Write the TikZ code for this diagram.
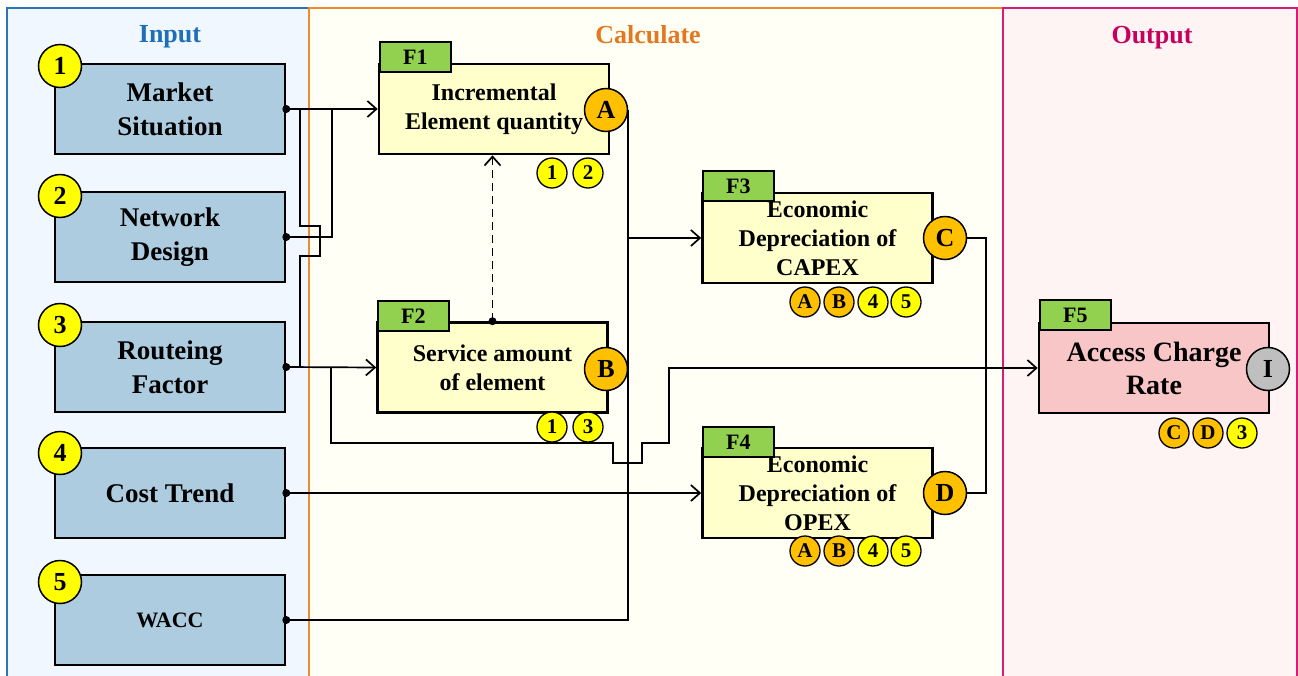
\documentclass[tikz,border=0pt]{standalone}
\usepackage{fontspec}
\setmainfont{Liberation Serif}
\usetikzlibrary{arrows.meta}
\definecolor{inpanel}{HTML}{F0F7FF}
\definecolor{inborder}{HTML}{2E75B6}
\definecolor{calcpanel}{HTML}{FFFFF6}
\definecolor{calcborder}{HTML}{ED8B2F}
\definecolor{outpanel}{HTML}{FFF4F4}
\definecolor{outborder}{HTML}{D81B77}
\definecolor{intitle}{HTML}{1F6FB8}
\definecolor{calctitle}{HTML}{E5781E}
\definecolor{outtitle}{HTML}{C7005F}
\definecolor{inboxc}{HTML}{AECCE0}
\definecolor{fboxc}{HTML}{FFFFCC}
\definecolor{f5c}{HTML}{F9C6C8}
\definecolor{tabc}{HTML}{92D050}
\definecolor{yelc}{HTML}{FFFF00}
\definecolor{orgc}{HTML}{FFC000}
\definecolor{grayc}{HTML}{BFBFBF}
\begin{document}
\begin{tikzpicture}[x=1pt,y=-1pt,
  conn/.style={line width=1.7pt, black},
  arr/.style={-{Straight Barb[length=9pt,width=16pt]}},
  panel/.style={line width=1.5pt},
  title/.style={anchor=base, font=\bfseries\fontsize{26}{26}\selectfont},
  inbox/.style={draw, line width=2.6pt, fill=inboxc, minimum width=230, minimum height=90, inner sep=0, align=center, font=\bfseries\fontsize{27}{34}\selectfont},
  fbox/.style={draw, line width=2.6pt, fill=fboxc, minimum width=230, minimum height=90, inner sep=0, align=center, font=\bfseries\fontsize{24}{29}\selectfont},
  tabbox/.style={draw, line width=1.8pt, fill=tabc, minimum width=71, minimum height=30, inner sep=0, anchor=north west, font=\bfseries\fontsize{22}{22}\selectfont},
  bigc/.style={circle, draw, line width=1.5pt, minimum size=43, inner sep=0, font=\bfseries\fontsize{26}{26}\selectfont},
  smc/.style={circle, draw, line width=1.3pt, minimum size=30, inner sep=0, font=\bfseries\fontsize{21}{21}\selectfont},
  yel/.style={fill=yelc}, org/.style={fill=orgc}, gry/.style={fill=grayc},
  dot/.style={circle, fill=black, inner sep=0, minimum size=8}
]
\useasboundingbox (0,0) rectangle (1298,675);
% panels
\draw[panel, fill=inpanel, draw=inborder] (7,8) rectangle (309,690);
\draw[panel, fill=calcpanel, draw=calcborder] (309,8) rectangle (1003,690);
\draw[panel, fill=outpanel, draw=outborder] (1003,8) rectangle (1297,690);
\node[title, text=intitle] (tin) at (170,42) {Input};
\node[title, text=calctitle] (tcalc) at (648,43) {Calculate};
\node[title, text=outtitle] (tout) at (1152,43) {Output};

% input boxes
\node[inbox] (ms) at (170,109) {Market\\Situation};
\node[inbox] (nd) at (170,237) {Network\\Design};
\node[inbox] (rf) at (170,367) {Routeing\\Factor};
\node[inbox] (ct) at (170,493) {Cost Trend};
\node[inbox, font=\bfseries\fontsize{22}{26}\selectfont] (wacc) at (170,620) {WACC};
\node[bigc, yel] (n1) at (60,66) {1};
\node[bigc, yel] (n2) at (60,196) {2};
\node[bigc, yel] (n3) at (60,325) {3};
\node[bigc, yel] (n4) at (60,453) {4};
\node[bigc, yel] (n5) at (60,582) {5};

% function boxes
\node[fbox] (F1) at (494,109) {Incremental\\Element quantity};
\node[tabbox] (t1) at (379,41) {F1};
\node[fbox] (F2) at (492.5,367.5) {Service amount\\of element};
\node[tabbox] (t2) at (377,300) {F2};
\node[fbox] (F3) at (817.5,238) {Economic\\Depreciation of\\CAPEX};
\node[tabbox] (t3) at (702,170) {F3};
\node[fbox] (F4) at (817.5,493) {Economic\\Depreciation of\\OPEX};
\node[tabbox] (t4) at (702,426) {F4};
\node[fbox, fill=f5c, font=\bfseries\fontsize{28}{33}\selectfont] (F5) at (1154,368) {Access Charge\\Rate};
\node[tabbox] (t5) at (1039,299) {F5};

% connectors
\coordinate (j1) at (300,109);
\coordinate (j2) at (332,109);
\coordinate (j3) at (331,367);
\coordinate (j4) at (986,238);
\draw[conn, arr] (ms.east) -- (F1.west);
\draw[conn] (nd.east) -- (332,237) -- (j2);
\draw[conn] (j1) -- (300,226) -- (320,226) -- (320,256) -- (300,256) -- (300,367);
\draw[conn, arr] (rf.east) -- (F2.west);
\draw[conn, arr] (j3) -- (331,443) -- (613,443) -- (613,463) -- (642,463) -- (642,443) -- (669,443) -- (669,368) -- (F5.west);
\draw[conn, arr] (ct.east) -- (F4.west);

% output circles and bus
\node[bigc, org] (A) at (606,110) {A};
\node[bigc, org] (B) at (606,369) {B};
\node[bigc, org] (C) at (945,238) {C};
\node[bigc, org] (D) at (945,493) {D};
\node[bigc, gry] (I) at (1268,369) {I};
\coordinate (bus3) at (627,238);
\draw[conn] (A.east) -- (A.east |- wacc.east) -- (wacc.east);
\draw[conn, arr] (bus3) -- (F3.west);
\draw[conn] (C.east) -- (j4) -- (986,493) -- (D.east);
\draw[conn, dash pattern=on 8pt off 5pt, arr] (F2.north) -- (F2.north |- F1.south);

% dots
\node[dot] (d1) at (ms.east) {};
\node[dot] (d2) at (nd.east) {};
\node[dot] (d3) at (rf.east) {};
\node[dot] (d4) at (ct.east) {};
\node[dot] (d5) at (wacc.east) {};
\node[dot] (d6) at (F2.north) {};

% reference circles
\node[smc, yel] (r11) at (552,173) {1};
\node[smc, yel] (r12) at (588,173) {2};
\node[smc, yel] (r21) at (552,427) {1};
\node[smc, yel] (r23) at (588,427) {3};
\node[smc, org] (r3a) at (805,302) {A};
\node[smc, org] (r3b) at (839,302) {B};
\node[smc, yel] (r34) at (873,302) {4};
\node[smc, yel] (r35) at (906,302) {5};
\node[smc, org] (r4a) at (805,551) {A};
\node[smc, org] (r4b) at (839,551) {B};
\node[smc, yel] (r44) at (873,551) {4};
\node[smc, yel] (r45) at (906,551) {5};
\node[smc, org] (r5c) at (1174,433) {C};
\node[smc, org] (r5d) at (1208,433) {D};
\node[smc, yel] (r53) at (1242,433) {3};
\end{tikzpicture}
\end{document}
